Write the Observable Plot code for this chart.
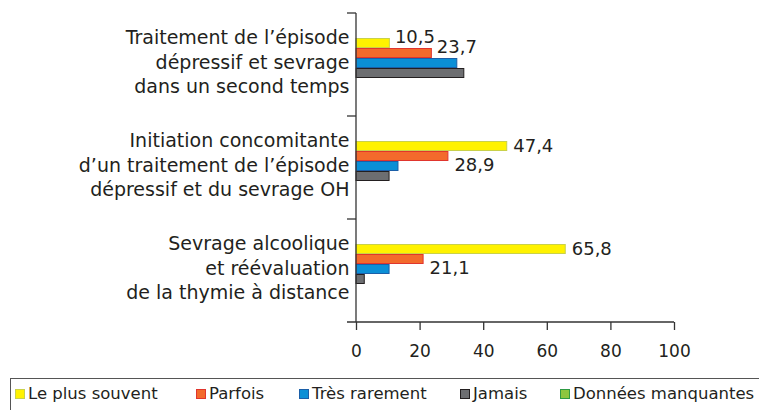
<!DOCTYPE html>
<html>
<head>
<meta charset="utf-8">
<script src="https://cdn.jsdelivr.net/npm/d3@7"></script>
<script src="https://cdn.jsdelivr.net/npm/@observablehq/plot@0.6"></script>
<style>
  html, body { margin: 0; padding: 0; background: #fff; overflow: hidden; }
  body { width: 759px; height: 410px; position: relative; font-family: "DejaVu Sans", sans-serif; color: #231f20; }
  #chart { position: absolute; left: 0; top: 0; }
  #legend { position: absolute; left: 10px; top: 378px; width: 800px; height: 60px; border-top: 1px solid #555; border-left: 1px solid #555; box-sizing: border-box; }
  .item { position: absolute; top: 5px; display: flex; align-items: center; font-size: 16.5px; white-space: nowrap; }
  .sw { width: 8px; height: 8px; border: 1px solid; margin-right: 3px; }
</style>
</head>
<body>
<div id="chart"></div>
<div id="legend"></div>
<script>
const categories = [
  "Traitement de l’épisode\ndépressif et sevrage\ndans un second temps",
  "Initiation concomitante\nd’un traitement de l’épisode\ndépressif et du sevrage OH",
  "Sevrage alcoolique\net réévaluation\nde la thymie à distance"
];
const seriesNames = ["Le plus souvent", "Parfois", "Très rarement", "Jamais", "Données manquantes"];
const lePlusSouvent = [10.5, 47.4, 65.8];
const parfois = [23.7, 28.9, 21.1];
const tresRarement = [31.7, 13.2, 10.4];
const jamais = [33.9, 10.4, 2.6];
const donneesManquantes = [0, 0, 0];
const xTicks = [0, 20, 40, 60, 80, 100];

const fills = ["#fff200", "#f36a2c", "#0b8fd6", "#6d6e71", "#8dc63f"];
const strokes = ["#c9d14a", "#e0352d", "#1b5fa8", "#231f20", "#2e9a44"];

const seriesValues = [lePlusSouvent, parfois, tresRarement, jamais, donneesManquantes];
const data = [];
categories.forEach((c, i) => {
  seriesNames.forEach((s, j) => {
    data.push({category: c, series: s, value: seriesValues[j][i], ci: i});
  });
});
const fmt = v => v.toFixed(1).replace(".", ",");
const labelled = data.filter(d => d.series === "Le plus souvent" || d.series === "Parfois");

const chart = Plot.plot({
  width: 759,
  height: 370,
  marginTop: 12,
  marginBottom: 48,
  marginLeft: 356,
  marginRight: 85,
  style: {fontFamily: "DejaVu Sans, sans-serif", fontSize: "17px", color: "#231f20", background: "#fff"},
  fy: {domain: categories, padding: 0, label: null},
  y: {domain: seriesNames, paddingInner: 0, paddingOuter: 2.2, align: 0.48, axis: null},
  x: {domain: [0, 100], label: null},
  color: {domain: seriesNames, range: fills},
  marks: [
    Plot.axisFy({anchor: "left", tickSize: 0, tickPadding: 7, dy: -4, fontSize: 19, lineHeight: 1.29, label: null, fill: "#231f20"}),
    Plot.axisX({ticks: xTicks, tickSize: 8, tickPadding: 14, fontSize: 17, label: null, stroke: "#333", strokeWidth: 1.3, fill: "#231f20"}),
    Plot.barX(data, {
      fy: "category", y: "series", x: "value",
      fill: "series",
      stroke: d => strokes[seriesNames.indexOf(d.series)],
      strokeWidth: 1,
      insetTop: 0.5, insetBottom: 0.5
    }),
    Plot.text(labelled.filter(d => d.ci === 0), {
      fy: "category", y: "series", x: "value", text: d => fmt(d.value),
      textAnchor: "start", dx: 5, dy: -6, fontSize: 18, fill: "#231f20"
    }),
    Plot.text(labelled.filter(d => d.ci > 0 && d.series === "Le plus souvent"), {
      fy: "category", y: "series", x: "value", text: d => fmt(d.value),
      textAnchor: "start", dx: 6, dy: 0, fontSize: 18, fill: "#231f20"
    }),
    Plot.text(labelled.filter(d => d.ci > 0 && d.series === "Parfois"), {
      fy: "category", y: "series", x: "value", text: d => fmt(d.value),
      textAnchor: "start", dx: 6, dy: 9, fontSize: 18, fill: "#231f20"
    })
  ]
});

// axis lines and group-boundary ticks derived from the plot's own scales
const svg = d3.select(chart);
const xs = chart.scale("x");
const fys = chart.scale("fy");
const x0 = xs.apply(0), x1 = xs.apply(100);
const bandTops = categories.map(c => fys.apply(c));
const bottom = bandTops[bandTops.length - 1] + fys.step;
const g = svg.append("g").attr("stroke", "#333").attr("stroke-width", 1.3).attr("fill", "none");
g.append("line").attr("x1", x0).attr("x2", x0).attr("y1", bandTops[0]).attr("y2", bottom);
g.append("line").attr("x1", x0 - 9).attr("x2", x1).attr("y1", bottom).attr("y2", bottom);
bandTops.forEach(t => g.append("line").attr("x1", x0 - 9).attr("x2", x0).attr("y1", t).attr("y2", t));

document.getElementById("chart").appendChild(chart);

// legend
const legend = d3.select("#legend");
const itemLefts = [4, 185, 288, 449, 549];
seriesNames.forEach((s, i) => {
  const it = legend.append("div").attr("class", "item").style("left", itemLefts[i] + "px");
  it.append("div").attr("class", "sw").style("background", fills[i]).style("border-color", strokes[i]);
  it.append("span").text(s);
});
</script>
</body>
</html>
